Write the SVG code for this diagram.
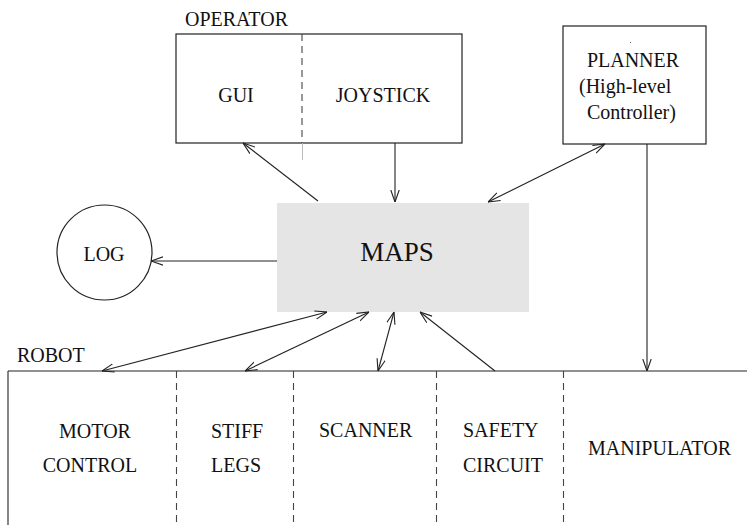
<svg xmlns="http://www.w3.org/2000/svg" width="747" height="525" viewBox="0 0 747 525">
<style>
text{font-family:'Liberation Serif','Times New Roman',serif;font-size:20px;fill:#111}
.box{fill:#fff;stroke:#222;stroke-width:1.2}
.ln{stroke:#222;stroke-width:1.1;fill:none}
.dash{stroke:#444;stroke-width:1.1;stroke-dasharray:7 5;fill:none}
.mid{text-anchor:middle}
.big{font-size:27px}
</style>
<defs>
<marker id="ah" viewBox="0 0 12 10" refX="12" refY="5" markerWidth="12" markerHeight="10" markerUnits="userSpaceOnUse" orient="auto-start-reverse">
<path d="M0,0.8 L12,5 L0,9.2" fill="none" stroke="#222" stroke-width="1.1"/>
</marker>
</defs>
<rect width="747" height="525" fill="#fff"/>

<g id="operator">
<text x="185" y="26">OPERATOR</text>
<rect class="box" x="176" y="34" width="286" height="109"/>
<line class="dash" x1="302" y1="34" x2="302" y2="143"/>
<line x1="302.5" y1="143" x2="302.5" y2="160" stroke="#bbb" stroke-width="1"/>
<text class="mid" x="236" y="102">GUI</text>
<text class="mid" x="383" y="102">JOYSTICK</text>
</g>

<g id="planner">
<rect class="box" x="563" y="26" width="143" height="118"/>
<rect x="630" y="42" width="1" height="1" fill="#666"/>
<text class="mid" x="633" y="67">PLANNER</text>
<text x="579" y="93">(High-level</text>
<text x="587" y="119">Controller)</text>
</g>

<g id="maps">
<rect x="277" y="203" width="252" height="109" fill="#e5e5e5"/>
<text class="mid big" x="397" y="261">MAPS</text>
</g>

<g id="log">
<circle class="box" cx="104.5" cy="252.5" r="47.5"/>
<text class="mid" x="104" y="261">LOG</text>
</g>

<g id="robot">
<text x="17" y="362">ROBOT</text>
<line class="ln" x1="8" y1="371" x2="747" y2="371"/>
<line class="ln" x1="8" y1="371" x2="8" y2="525"/>
<line class="dash" x1="176.5" y1="371" x2="176.5" y2="525"/>
<line class="dash" x1="293.5" y1="371" x2="293.5" y2="525"/>
<line class="dash" x1="436.5" y1="371" x2="436.5" y2="525"/>
<line class="dash" x1="563.5" y1="371" x2="563.5" y2="525"/>
<text class="mid" x="95" y="438">MOTOR</text>
<text class="mid" x="90" y="472">CONTROL</text>
<text x="211" y="438">STIFF</text>
<text x="211" y="472">LEGS</text>
<text x="319" y="437">SCANNER</text>
<text x="463" y="437">SAFETY</text>
<text x="463" y="472">CIRCUIT</text>
<text x="588" y="455">MANIPULATOR</text>
</g>

<g id="connectors">
<line class="ln" x1="318" y1="201" x2="243" y2="143" marker-end="url(#ah)"/>
<line class="ln" x1="395" y1="143" x2="395" y2="202" marker-end="url(#ah)"/>
<line class="ln" x1="488" y1="202" x2="605" y2="144" marker-start="url(#ah)" marker-end="url(#ah)"/>
<line class="ln" x1="647" y1="144" x2="647" y2="371" marker-end="url(#ah)"/>
<line class="ln" x1="277" y1="261" x2="151" y2="261" marker-end="url(#ah)"/>
<line class="ln" x1="102" y1="371" x2="327" y2="312" marker-start="url(#ah)" marker-end="url(#ah)"/>
<line class="ln" x1="245" y1="371" x2="369" y2="312" marker-start="url(#ah)" marker-end="url(#ah)"/>
<line class="ln" x1="378" y1="371" x2="394" y2="312" marker-start="url(#ah)" marker-end="url(#ah)"/>
<line class="ln" x1="495" y1="371" x2="420" y2="312" marker-end="url(#ah)"/>
</g>
</svg>
